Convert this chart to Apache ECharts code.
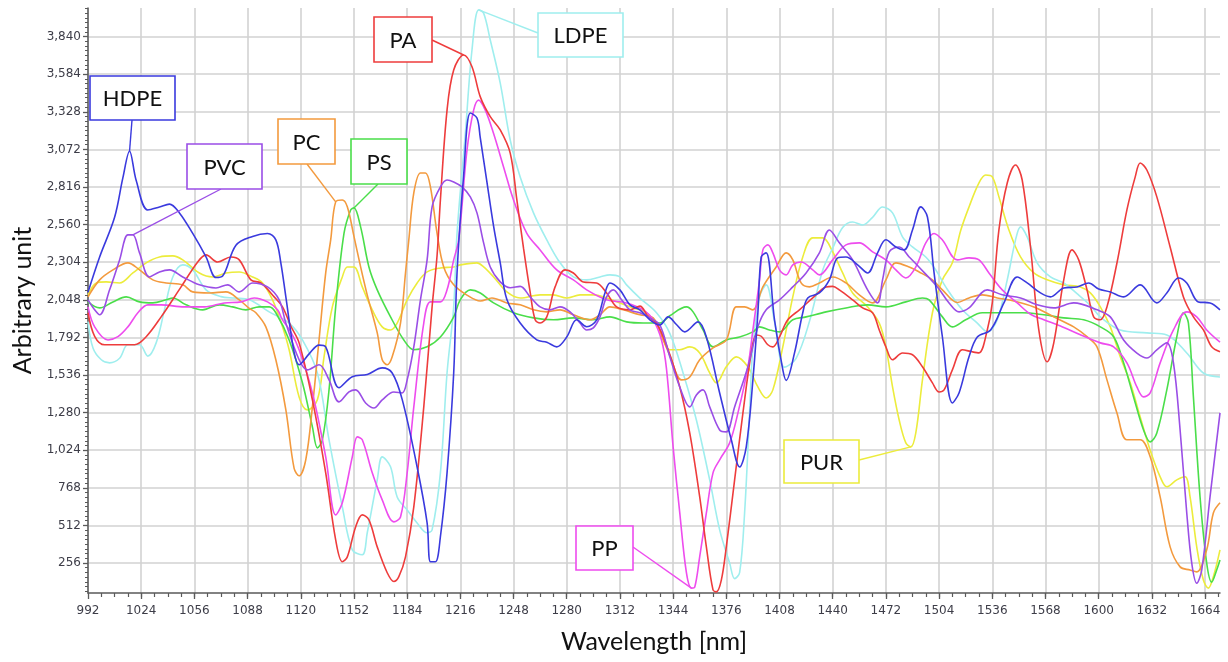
<!DOCTYPE html>
<html>
<head>
<meta charset="utf-8">
<script src="https://cdn.jsdelivr.net/npm/echarts@6/dist/echarts.min.js"></script>
<style>
  html, body { margin: 0; padding: 0; background: #ffffff; }
  #chart { width: 1228px; height: 662px; }
</style>
</head>
<body>
<div id="chart"></div>
<script>
// NIR reflectance spectra of common polymers, [wavelength nm, arbitrary unit]
const HDPE = [[992,2100],[999,2340],[1008,2610],[1013,2880],[1017,3060],[1021,2860],[1028,2660],[1035,2680],[1041,2700],[1047,2640],[1055,2500],[1063,2340],[1069,2200],[1073,2210],[1081,2420],[1091,2480],[1100,2500],[1105,2456],[1108,2300],[1111,2070],[1116,1690],[1119,1606],[1125,1680],[1131,1740],[1135,1728],[1143,1450],[1151,1525],[1160,1540],[1169,1585],[1175,1550],[1181,1370],[1190,910],[1196,530],[1198,265],[1201,265],[1204,435],[1208,870],[1212,1550],[1214,2230],[1218,2900],[1222,3320],[1226,3286],[1228,3150],[1232,2850],[1236,2550],[1240,2300],[1244,2050],[1252,1890],[1262,1775],[1268,1760],[1274,1728],[1280,1795],[1286,1912],[1292,1865],[1298,1912],[1303,2095],[1306,2163],[1312,2116],[1318,2014],[1324,1980],[1330,1912],[1336,1877],[1341,1932],[1346,1880],[1351,1830],[1359,1898],[1364,1795],[1372,1414],[1379,1095],[1384,910],[1388,1047],[1392,1503],[1395,1960],[1397,2340],[1400,2368],[1405,1912],[1410,1571],[1412,1500],[1417,1685],[1422,1960],[1425,2061],[1432,2095],[1438,2184],[1443,2334],[1448,2340],[1455,2286],[1461,2231],[1467,2368],[1472,2457],[1478,2408],[1483,2388],[1488,2524],[1493,2681],[1497,2612],[1501,2231],[1506,1795],[1512,1346],[1516,1414],[1522,1660],[1527,1795],[1535,1843],[1543,2027],[1551,2204],[1557,2163],[1565,2095],[1571,2068],[1579,2129],[1587,2136],[1594,2163],[1600,2122],[1607,2102],[1615,2068],[1625,2150],[1635,2027],[1641,2095],[1648,2197],[1653,2163],[1660,2034],[1667,2027],[1673,1980]];

const PVC = [[992,2048],[996,1980],[999,1946],[1005,2116],[1011,2320],[1016,2490],[1019,2490],[1023,2368],[1029,2204],[1035,2238],[1041,2252],[1049,2204],[1059,2150],[1069,2129],[1076,2150],[1083,2102],[1091,2163],[1100,2136],[1107,2048],[1111,1890],[1119,1640],[1124,1571],[1131,1606],[1137,1503],[1143,1353],[1149,1421],[1153,1435],[1159,1346],[1164,1312],[1169,1367],[1176,1421],[1181,1414],[1184,1503],[1188,1728],[1192,2048],[1196,2320],[1199,2681],[1204,2817],[1208,2864],[1212,2851],[1217,2817],[1222,2749],[1226,2640],[1230,2436],[1234,2272],[1240,2170],[1246,2130],[1252,2140],[1258,2068],[1264,2000],[1270,1980],[1276,2000],[1282,1966],[1288,1890],[1292,1843],[1296,1857],[1300,1932],[1304,2068],[1308,2116],[1313,2048],[1318,1980],[1324,1960],[1330,1925],[1336,1877],[1342,1660],[1348,1455],[1354,1319],[1358,1400],[1362,1435],[1366,1319],[1372,1162],[1376,1149],[1381,1319],[1389,1592],[1395,1864],[1400,1980],[1408,2048],[1416,2136],[1424,2231],[1432,2368],[1438,2524],[1444,2436],[1452,2320],[1461,2116],[1467,2027],[1470,2184],[1474,2375],[1480,2408],[1486,2340],[1492,2270],[1503,2136],[1510,2027],[1516,1966],[1522,1993],[1533,2116],[1542,2082],[1553,2061],[1563,2014],[1573,1993],[1585,2027],[1599,1980],[1607,1932],[1615,1775],[1623,1686],[1629,1652],[1635,1708],[1641,1755],[1645,1619],[1649,1162],[1653,597],[1656,256],[1659,119],[1662,208],[1667,706],[1673,1278]];

const PC = [[992,2068],[999,2184],[1007,2252],[1016,2300],[1023,2252],[1031,2184],[1039,2163],[1049,2150],[1055,2102],[1065,2095],[1075,2102],[1083,2048],[1089,1990],[1093,1960],[1099,1864],[1105,1640],[1111,1300],[1116,900],[1119,850],[1123,959],[1127,1319],[1131,1775],[1135,2231],[1138,2456],[1141,2715],[1145,2728],[1148,2681],[1152,2480],[1156,2272],[1160,2080],[1166,1823],[1169,1640],[1172,1606],[1175,1660],[1180,1890],[1183,2231],[1185,2456],[1188,2776],[1192,2912],[1195,2912],[1198,2817],[1202,2500],[1206,2272],[1212,2150],[1220,2080],[1228,2040],[1235,2061],[1244,2027],[1252,2014],[1260,1980],[1268,1966],[1276,1980],[1284,1946],[1294,1912],[1300,1946],[1306,2000],[1314,1980],[1324,1946],[1332,1925],[1338,1775],[1342,1670],[1349,1503],[1354,1523],[1360,1640],[1368,1721],[1376,1775],[1382,2000],[1387,2000],[1392,1980],[1398,2136],[1406,2272],[1412,2368],[1416,2320],[1421,2163],[1426,2136],[1432,2163],[1440,2204],[1448,2163],[1456,2082],[1464,2027],[1472,2184],[1478,2300],[1486,2272],[1492,2238],[1500,2184],[1506,2116],[1515,2030],[1522,2061],[1530,2082],[1539,2061],[1549,2040],[1561,2000],[1573,1932],[1585,1864],[1593,1797],[1599,1728],[1605,1503],[1611,1278],[1617,1095],[1625,1095],[1631,979],[1637,706],[1643,366],[1649,230],[1655,208],[1659,196],[1665,346],[1669,597],[1673,666]];

const PS = [[992,2034],[999,1993],[1007,2034],[1015,2068],[1023,2034],[1031,2027],[1039,2048],[1043,2061],[1051,2014],[1061,1980],[1071,2014],[1079,2000],[1087,1980],[1095,2000],[1101,2000],[1105,1960],[1113,1775],[1121,1483],[1127,1183],[1130,1040],[1133,1095],[1137,1435],[1141,2000],[1146,2500],[1150,2660],[1152,2674],[1156,2545],[1161,2272],[1166,2116],[1174,1932],[1182,1775],[1188,1708],[1196,1728],[1204,1795],[1212,1932],[1216,2050],[1222,2116],[1228,2095],[1236,2027],[1248,1960],[1260,1925],[1272,1912],[1284,1925],[1296,1912],[1306,1932],[1316,1898],[1326,1890],[1336,1890],[1342,1940],[1352,2000],[1356,1966],[1362,1843],[1368,1728],[1376,1775],[1384,1795],[1392,1830],[1396,1864],[1402,1843],[1408,1830],[1416,1912],[1424,1932],[1436,1966],[1448,1993],[1461,2014],[1472,2000],[1484,2034],[1494,2061],[1498,2048],[1506,1932],[1512,1864],[1520,1912],[1530,1960],[1542,1960],[1554,1960],[1567,1946],[1579,1925],[1591,1912],[1601,1864],[1609,1797],[1615,1619],[1621,1387],[1627,1162],[1631,1081],[1635,1142],[1641,1435],[1647,1795],[1651,1960],[1654,1890],[1657,1387],[1661,706],[1665,256],[1668,126],[1671,208],[1673,276]];

const PA = [[992,1960],[996,1800],[1002,1742],[1020,1742],[1027,1797],[1036,1932],[1048,2136],[1058,2306],[1063,2354],[1070,2306],[1078,2340],[1083,2320],[1090,2184],[1096,2163],[1104,2068],[1109,2000],[1114,1870],[1119,1755],[1127,1367],[1135,870],[1141,414],[1145,265],[1148,298],[1153,502],[1157,584],[1161,550],[1166,366],[1172,190],[1176,130],[1179,163],[1183,298],[1188,638],[1194,1319],[1199,2000],[1202,2350],[1204,2728],[1208,3340],[1212,3613],[1218,3715],[1223,3635],[1228,3430],[1234,3295],[1240,3205],[1246,3047],[1250,2728],[1254,2400],[1258,2100],[1261,1912],[1264,1890],[1268,1932],[1273,2136],[1279,2252],[1284,2231],[1290,2170],[1298,2163],[1304,2095],[1310,2000],[1318,1980],[1324,2005],[1329,1932],[1334,1890],[1340,1740],[1348,1455],[1354,1142],[1360,706],[1364,366],[1368,73],[1370,60],[1373,140],[1376,366],[1381,822],[1386,1278],[1391,1686],[1394,1809],[1397,1800],[1401,1742],[1404,1728],[1408,1796],[1413,1912],[1420,1980],[1428,2061],[1436,2136],[1440,2140],[1444,2116],[1452,2048],[1458,1993],[1464,1960],[1468,1843],[1472,1728],[1476,1640],[1482,1686],[1488,1674],[1494,1592],[1500,1483],[1504,1421],[1507,1435],[1512,1571],[1518,1708],[1524,1694],[1528,1687],[1533,1843],[1536,2027],[1540,2524],[1545,2844],[1550,2966],[1554,2864],[1559,2408],[1564,1843],[1569,1626],[1573,1755],[1579,2184],[1584,2388],[1588,2320],[1593,2116],[1597,1932],[1601,1912],[1605,2000],[1611,2299],[1617,2660],[1622,2885],[1625,2980],[1629,2932],[1635,2749],[1643,2408],[1651,2068],[1657,1932],[1663,1843],[1668,1728],[1673,1694]];

const LDPE = [[992,1900],[995,1720],[1000,1640],[1005,1619],[1011,1650],[1016,1742],[1023,1742],[1028,1665],[1033,1755],[1038,1980],[1043,2204],[1049,2286],[1055,2252],[1063,2116],[1072,2070],[1080,2060],[1089,2048],[1101,1966],[1113,1890],[1121,1775],[1130,1550],[1137,1095],[1145,638],[1151,346],[1157,312],[1160,462],[1166,822],[1169,979],[1174,911],[1178,706],[1184,617],[1190,529],[1196,462],[1199,482],[1204,870],[1208,1550],[1212,2000],[1214,2500],[1219,3180],[1223,3749],[1227,4022],[1230,4000],[1234,3817],[1240,3524],[1246,3136],[1252,2885],[1260,2640],[1268,2456],[1276,2300],[1284,2204],[1292,2184],[1300,2204],[1306,2218],[1312,2204],[1316,2150],[1324,2060],[1334,1960],[1342,1820],[1350,1550],[1358,1230],[1366,822],[1372,482],[1378,256],[1381,150],[1384,190],[1387,597],[1390,1278],[1392,1728],[1396,2068],[1400,2150],[1405,1900],[1411,1590],[1418,1650],[1426,1900],[1434,2250],[1440,2400],[1446,2540],[1452,2578],[1458,2558],[1464,2610],[1470,2680],[1476,2640],[1482,2477],[1488,2408],[1496,2340],[1502,2252],[1508,2136],[1518,1980],[1527,1890],[1533,1830],[1539,1912],[1545,2184],[1550,2456],[1553,2545],[1557,2477],[1563,2300],[1571,2204],[1579,2163],[1587,2090],[1595,2010],[1601,1932],[1613,1843],[1629,1823],[1641,1809],[1653,1686],[1663,1550],[1673,1523]];

const PP = [[992,2000],[996,1864],[1004,1775],[1010,1797],[1016,1864],[1022,1960],[1028,2014],[1036,2014],[1050,2000],[1062,2000],[1074,2027],[1084,2034],[1092,2061],[1100,2034],[1106,1980],[1109,1912],[1114,1830],[1119,1708],[1127,1414],[1135,979],[1141,584],[1145,666],[1151,979],[1154,1115],[1157,1095],[1163,870],[1169,686],[1176,536],[1180,570],[1184,870],[1188,1319],[1194,1890],[1198,2034],[1204,2034],[1208,2116],[1212,2320],[1215,2456],[1220,3068],[1224,3340],[1227,3408],[1231,3340],[1236,3180],[1242,2953],[1248,2728],[1256,2500],[1264,2388],[1274,2252],[1284,2184],[1292,2116],[1304,2048],[1316,2027],[1326,1980],[1332,1912],[1337,1775],[1340,1580],[1344,1047],[1348,597],[1352,190],[1355,85],[1357,92],[1360,300],[1364,597],[1368,870],[1372,959],[1378,1074],[1383,1278],[1389,1592],[1392,1843],[1396,2184],[1398,2388],[1401,2422],[1404,2368],[1408,2252],[1412,2218],[1416,2286],[1421,2306],[1428,2252],[1432,2218],[1440,2320],[1448,2422],[1456,2436],[1464,2375],[1472,2320],[1478,2252],[1484,2197],[1490,2272],[1496,2436],[1501,2500],[1506,2456],[1515,2320],[1522,2334],[1528,2320],[1534,2231],[1542,2116],[1551,2027],[1559,1950],[1567,1912],[1577,1870],[1589,1810],[1601,1755],[1609,1728],[1617,1619],[1623,1455],[1627,1387],[1631,1414],[1637,1619],[1645,1843],[1653,1966],[1659,1932],[1665,1843],[1673,1760]];

const PUR = [[992,2080],[997,2163],[1003,2170],[1011,2163],[1019,2231],[1027,2300],[1035,2340],[1043,2347],[1049,2320],[1059,2231],[1067,2204],[1075,2231],[1083,2238],[1091,2204],[1097,2163],[1103,2048],[1108,1900],[1113,1708],[1119,1387],[1124,1298],[1130,1367],[1134,1660],[1139,2000],[1145,2204],[1148,2272],[1152,2272],[1157,2136],[1163,1980],[1169,1864],[1174,1843],[1178,1890],[1184,2048],[1190,2163],[1196,2238],[1204,2265],[1212,2272],[1216,2286],[1226,2300],[1230,2272],[1236,2204],[1244,2102],[1252,2061],[1264,2082],[1272,2082],[1280,2061],[1288,2082],[1296,2082],[1304,2061],[1312,2027],[1320,1993],[1328,1960],[1336,1843],[1342,1708],[1348,1708],[1354,1728],[1360,1686],[1366,1550],[1370,1483],[1376,1592],[1382,1660],[1389,1592],[1395,1455],[1400,1380],[1404,1435],[1410,1728],[1416,2068],[1422,2340],[1428,2470],[1434,2470],[1440,2375],[1446,2231],[1452,2095],[1461,2000],[1468,1890],[1472,1728],[1476,1455],[1480,1230],[1484,1074],[1487,1047],[1490,1142],[1494,1503],[1500,1960],[1506,2184],[1512,2300],[1517,2520],[1522,2680],[1528,2844],[1532,2898],[1536,2885],[1540,2749],[1546,2524],[1553,2340],[1561,2231],[1569,2184],[1579,2150],[1589,2136],[1595,2095],[1601,2000],[1607,1864],[1613,1660],[1619,1483],[1625,1251],[1631,1024],[1637,843],[1641,775],[1647,822],[1652,843],[1655,706],[1659,366],[1663,140],[1666,85],[1669,163],[1673,346]];

// axis tick labels
const wavelengthTicks = [992,1024,1056,1088,1120,1152,1184,1216,1248,1280,1312,1344,1376,1408,1440,1472,1504,1536,1568,1600,1632,1664];
const intensityTicks = [256,512,768,1024,1280,1536,1792,2048,2304,2560,2816,3072,3328,3584,3840];

const X_MIN = 992, X_MAX = 1673, Y_MIN = 52, Y_MAX = 4035;

// minor tick positions (8 nm and 32 units apart)
const wavelengthMinor = [];
for (let v = 1000; v < X_MAX; v += 8) wavelengthMinor.push(v);
const intensityMinor = [];
for (let v = 64; v < Y_MAX; v += 32) intensityMinor.push(v);

const spectra = [
  { name: 'PUR',  data: PUR,  color: '#ecec3c' },
  { name: 'LDPE', data: LDPE, color: '#9feeee' },
  { name: 'PS',   data: PS,   color: '#4ade4a' },
  { name: 'PC',   data: PC,   color: '#f39a3e' },
  { name: 'PP',   data: PP,   color: '#ee4cee' },
  { name: 'PA',   data: PA,   color: '#ee3c3c' },
  { name: 'PVC',  data: PVC,  color: '#9a4ee6' },
  { name: 'HDPE', data: HDPE, color: '#3a3ade' }
];

// callout boxes: box [x, y, w, h] in px, leader start in px, leader end at a listed wavelength
const callouts = [
  { name: 'HDPE', box: [90, 76, 85, 44],  from: [132, 120], at: 1017 },
  { name: 'PVC',  box: [187, 144, 75, 45], from: [221, 189], at: 1019 },
  { name: 'PC',   box: [278, 119, 57, 45], from: [307, 164], at: 1141 },
  { name: 'PS',   box: [351, 139, 56, 45], from: [378, 184], at: 1152 },
  { name: 'PA',   box: [374, 17, 58, 45],  from: [432, 40],  at: 1218 },
  { name: 'LDPE', box: [538, 13, 85, 44],  from: [538, 33],  at: 1227 },
  { name: 'PP',   box: [576, 526, 57, 44], from: [633, 547], at: 1355 },
  { name: 'PUR',  box: [784, 440, 75, 43], from: [859, 460], at: 1487 }
];

const tickFont = { fontFamily: 'DejaVu Sans', fontSize: 12, color: '#3d3d48' };
const axisLineStyle = { color: '#5a5a5a', width: 1.5 };
const gridStyle = { color: '#d2d2d2', width: 1.6 };

const chart = echarts.init(document.getElementById('chart'), null, { renderer: 'canvas' });

chart.setOption({
  animation: false,
  backgroundColor: '#ffffff',
  grid: { left: 88, right: 8, top: 8, bottom: 69, containLabel: false },
  xAxis: [
    {
      type: 'value', min: X_MIN, max: X_MAX, position: 'bottom',
      name: 'Wavelength [nm]', nameLocation: 'middle', nameGap: 36,
      nameTextStyle: { fontFamily: 'Lato', fontSize: 25, color: '#111' },
      axisLine: { show: true, lineStyle: axisLineStyle },
      axisTick: { show: true, length: 6, customValues: wavelengthTicks, lineStyle: { color: '#5a5a5a', width: 1.3 } },
      axisLabel: Object.assign({ customValues: wavelengthTicks, margin: 12, formatter: v => String(v) }, tickFont),
      splitLine: { show: true, lineStyle: gridStyle }
    },
    {
      type: 'value', min: X_MIN, max: X_MAX, position: 'bottom',
      axisLine: { show: false },
      axisTick: { show: true, length: 4, customValues: wavelengthMinor, lineStyle: { color: '#5a5a5a', width: 1.2 } },
      axisLabel: { show: false },
      splitLine: { show: false }
    }
  ],
  yAxis: [
    {
      type: 'value', min: Y_MIN, max: Y_MAX, position: 'left',
      name: 'Arbitrary unit', nameLocation: 'middle', nameGap: 44, nameRotate: 90,
      nameTextStyle: { fontFamily: 'Lato', fontSize: 25, color: '#111' },
      axisLine: { show: true, lineStyle: axisLineStyle },
      axisTick: { show: true, length: 5, customValues: intensityTicks, lineStyle: { color: '#5a5a5a', width: 1.3 } },
      axisLabel: Object.assign({
        customValues: intensityTicks, margin: 7,
        formatter: v => Number(v).toLocaleString('en-US')
      }, tickFont),
      splitLine: { show: true, lineStyle: gridStyle }
    },
    {
      type: 'value', min: Y_MIN, max: Y_MAX, position: 'left',
      axisLine: { show: false },
      axisTick: { show: true, length: 3, customValues: intensityMinor, lineStyle: { color: '#5a5a5a', width: 1 } },
      axisLabel: { show: false },
      splitLine: { show: false }
    }
  ],
  series: spectra.map(s => ({
    name: s.name,
    type: 'line',
    xAxisIndex: 0,
    yAxisIndex: 0,
    data: s.data,
    showSymbol: false,
    smooth: 0.35,
    lineStyle: { color: s.color, width: 1.6 },
    itemStyle: { color: s.color },
    emphasis: { disabled: true }
  }))
});

// leader lines and labelled boxes, anchored on the spectra
function pointAt(data, wl) {
  let best = data[0];
  for (const p of data) if (Math.abs(p[0] - wl) < Math.abs(best[0] - wl)) best = p;
  return best;
}
const colorOf = {};
spectra.forEach(s => { colorOf[s.name] = s.color; });
const dataOf = {};
spectra.forEach(s => { dataOf[s.name] = s.data; });

const graphics = [];
callouts.forEach(c => {
  const p = pointAt(dataOf[c.name], c.at);
  const px = chart.convertToPixel({ xAxisIndex: 0, yAxisIndex: 0 }, p);
  const col = colorOf[c.name];
  graphics.push({
    type: 'line', z: 100,
    shape: { x1: c.from[0], y1: c.from[1], x2: px[0], y2: px[1] },
    style: { stroke: col, lineWidth: 1.4 }
  });
  graphics.push({
    type: 'rect', z: 101,
    shape: { x: c.box[0], y: c.box[1], width: c.box[2], height: c.box[3] },
    style: { fill: '#ffffff', stroke: col, lineWidth: 1.6 }
  });
  graphics.push({
    type: 'text', z: 102,
    x: c.box[0] + c.box[2] / 2, y: c.box[1] + c.box[3] / 2 + 1,
    style: {
      text: c.name, fill: '#111', font: '22px Lato',
      align: 'center', verticalAlign: 'middle'
    }
  });
});
chart.setOption({ graphic: graphics });
</script>
</body>
</html>
